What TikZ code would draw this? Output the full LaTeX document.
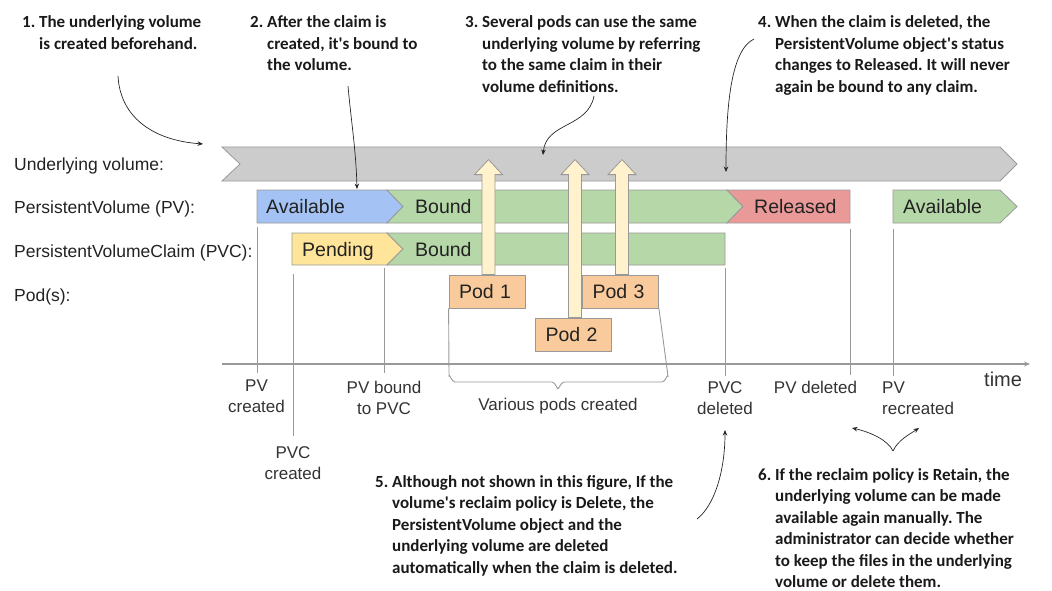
\documentclass[tikz,border=0pt]{standalone}
\usepackage{fontspec}
\setmainfont{Liberation Sans}
\newfontfamily\notefont{Carlito}
\usetikzlibrary{arrows.meta}
\frenchspacing

\definecolor{volgray}{HTML}{CCCCCC}
\definecolor{edgegray}{HTML}{999999}
\definecolor{pvblue}{HTML}{A4C2F4}
\definecolor{boundgreen}{HTML}{B6D7A8}
\definecolor{relred}{HTML}{EA9999}
\definecolor{pendyellow}{HTML}{FFE599}
\definecolor{podorange}{HTML}{F9CB9C}
\definecolor{usecream}{HTML}{FFF2CC}
\definecolor{ink}{HTML}{222222}
\definecolor{softink}{HTML}{333333}

\tikzset{
  phase/.style={draw=edgegray, line width=0.8pt, line join=miter},
  barlabel/.style={font=\fontsize{19.5}{22}\selectfont, text=ink, inner sep=0pt, anchor=base west},
  rowlabel/.style={font=\fontsize{17.5}{20}\selectfont, text=ink, inner sep=0pt, anchor=base west},
  ticklabel/.style={font=\fontsize{17}{21}\selectfont, text=softink, inner sep=0pt, anchor=base},
  note/.style={font=\notefont\bfseries\fontsize{17}{21.5}\selectfont, text=black!90, inner sep=0pt, anchor=base west},
  callout/.style={-{Stealth[length=5.5pt,width=4.5pt]}, line width=0.7pt, draw=black!85},
  tickline/.style={draw=edgegray, line width=0.9pt},
  podbox/.style={draw=edgegray, fill=podorange, line width=0.8pt, text width=56pt, align=left,
                 inner xsep=10pt, inner ysep=0pt, minimum height=33pt,
                 font=\fontsize{19.5}{22}\selectfont, text=ink},
  usearrow/.style={draw=edgegray, fill=usecream, line width=0.8pt, line join=miter},
}

% upward arrow from a pod to the volume; #1 pod node, #2 shaft length
\newcommand{\feedarrow}[2]{%
  \draw[usearrow] ([xshift=-5pt]#1.north) -- ++(0,-#2) -- ++(-7.5,0) -- ++(14,-15)
    -- ++(14,15) -- ++(-7.5,0) -- ++(0,#2) -- cycle;}

\begin{document}
\begin{tikzpicture}[x=1pt,y=-1pt]
\useasboundingbox (0,0) rectangle (1052,591);

% row labels
\node[rowlabel] (lvol)  at (14,170.5) {Underlying volume:};
\node[rowlabel] (lpv)   at (14,213)   {PersistentVolume (PV):};
\node[rowlabel] (lpvc)  at (14,257)   {PersistentVolumeClaim (PVC):};
\node[rowlabel] (lpods) at (14,301.5) {Pod(s):};

% event markers
\draw[tickline] (257,227) -- (257,373);
\draw[tickline] (293,274) -- (293,436);
\draw[tickline] (384,268) -- (384,373);
\draw[tickline] (725,268) -- (725,376);
\draw[tickline] (850,229) -- (850,375);
\draw[tickline] (893,229) -- (893,376);

% time axis
\coordinate (axstart) at (222,364);
\coordinate (axend) at (1030,364);
\draw[draw=edgegray, line width=1.2pt, -{Stealth[length=6pt,width=5pt]}] (axstart) -- (axend);

% underlying volume
\draw[phase, fill=volgray] (222,147) -- (1000,147) -- (1017,164) -- (1000,181) -- (222,181) -- (240,164) -- cycle;

% PersistentVolume phases
\draw[phase, fill=pvblue] (257,190) -- (387,190) -- (403,206.5) -- (387,223) -- (257,223) -- cycle;
\draw[phase, fill=boundgreen] (387,190) -- (727,190) -- (743,206.5) -- (727,223) -- (387,223) -- (403,206.5) -- cycle;
\draw[phase, fill=relred] (727,190) -- (850,190) -- (850,223) -- (727,223) -- (743,206.5) -- cycle;
\draw[phase, fill=boundgreen] (893,190) -- (1000,190) -- (1017,206.5) -- (1000,223) -- (893,223) -- cycle;

% PersistentVolumeClaim phases
\draw[phase, fill=pendyellow] (292,233) -- (387,233) -- (403,249) -- (387,265) -- (292,265) -- cycle;
\draw[phase, fill=boundgreen] (387,233) -- (725,233) -- (725,265) -- (387,265) -- (403,249) -- cycle;

\node[barlabel] (tavail)  at (266,213)   {Available};
\node[barlabel] (tbound)  at (415,213)   {Bound};
\node[barlabel] (trel)    at (754,213)   {Released};
\node[barlabel] (tavail2) at (903,213)   {Available};
\node[barlabel] (tpend)   at (302,256.5) {Pending};
\node[barlabel] (tbound2) at (415,256.5) {Bound};

% pods
\node[podbox] (pod1) at (487,291.5) {Pod 1};
\node[podbox] (pod3) at (620.5,291.5) {Pod 3};
\node[podbox] (pod2) at (573.5,334.5) {Pod 2};
\feedarrow{pod1}{100}
\feedarrow{pod3}{100}
\feedarrow{pod2}{143}

% bracket under the pods
\draw[tickline] (pod1.south west) -- (449,376) to[out=90,in=180] (455,382) -- (552,382)
  to[out=0,in=-90] (558,388) to[out=-90,in=180] (564,382) -- (662,382)
  to[out=0,in=90] (668,376) -- (pod3.south east);

% timeline labels
\node[ticklabel] (ev1) at (256.5,391) {\begin{tabular}[t]{@{}c@{}}PV\\created\end{tabular}};
\node[ticklabel] (ev2) at (293,458) {\begin{tabular}[t]{@{}c@{}}PVC\\created\end{tabular}};
\node[ticklabel] (ev3) at (384,393) {\begin{tabular}[t]{@{}c@{}}PV bound\\to PVC\end{tabular}};
\node[ticklabel] (ev4) at (558,410) {Various pods created};
\node[ticklabel] (ev5) at (725,393) {\begin{tabular}[t]{@{}c@{}}PVC\\deleted\end{tabular}};
\node[ticklabel] (ev6) at (815.5,393) {PV deleted};
\node[ticklabel, anchor=base west] (ev7) at (882,393) {\begin{tabular}[t]{@{}l@{}}PV\\recreated\end{tabular}};
\node[ticklabel, anchor=base west, font=\fontsize{20}{22}\selectfont] (ltime) at (984,386) {time};

% notes
\node[note] (n1) at (22,28) {\begin{tabular}[t]{@{}l@{\ }l@{}}1. & The underlying volume\\ & is created beforehand.\end{tabular}};
\node[note] (n2) at (250,28) {\begin{tabular}[t]{@{}l@{\ }l@{}}2. & After the claim is\\ & created, it\textquotesingle s bound to\\ & the volume.\end{tabular}};
\node[note] (n3) at (465,28) {\begin{tabular}[t]{@{}l@{\ }l@{}}3. & Several pods can use the same\\ & underlying volume by referring\\ & to the same claim in their\\ & volume definitions.\end{tabular}};
\node[note] (n4) at (758,28) {\begin{tabular}[t]{@{}l@{\ }l@{}}4. & When the claim is deleted, the\\ & PersistentVolume object\textquotesingle s status\\ & changes to Released. It will never\\ & again be bound to any claim.\end{tabular}};
\node[note] (n5) at (375,487) {\begin{tabular}[t]{@{}l@{\ }l@{}}5. & Although not shown in this figure, If the\\ & volume\textquotesingle s reclaim policy is Delete, the\\ & PersistentVolume object and the\\ & underlying volume are deleted\\ & automatically when the claim is deleted.\end{tabular}};
\node[note] (n6) at (758,480) {\begin{tabular}[t]{@{}l@{\ }l@{}}6. & If the reclaim policy is Retain, the\\ & underlying volume can be made\\ & available again manually. The\\ & administrator can decide whether\\ & to keep the files in the underlying\\ & volume or delete them.\end{tabular}};

% callout arrows
\coordinate (c1s) at (118,76);   \coordinate (c1e) at (203,144);
\coordinate (c2s) at (348,86);   \coordinate (c2e) at (357,189);
\coordinate (c3s) at (594,96);   \coordinate (c3e) at (543,155);
\coordinate (c4s) at (754,39);   \coordinate (c4e) at (726,172);
\coordinate (c5s) at (697,519);  \coordinate (c5e) at (725,430);
\coordinate (c6s) at (893,451);  \coordinate (c6l) at (852,428); \coordinate (c6r) at (919,428);
\draw[callout] (c1s) .. controls (120,115) and (150,140) .. (c1e);
\draw[callout] (c2s) .. controls (351,120) and (356,150) .. (c2e);
\draw[callout] (c3s) .. controls (588,128) and (546,122) .. (c3e);
\draw[callout] (c4s) .. controls (731,50) and (726,105) .. (c4e);
\draw[callout] (c5s) .. controls (715,505) and (725,470) .. (c5e);
\draw[callout] (c6s) .. controls (888,440) and (870,432) .. (c6l);
\draw[callout] (c6s) .. controls (898,440) and (910,434) .. (c6r);
\end{tikzpicture}
\end{document}
